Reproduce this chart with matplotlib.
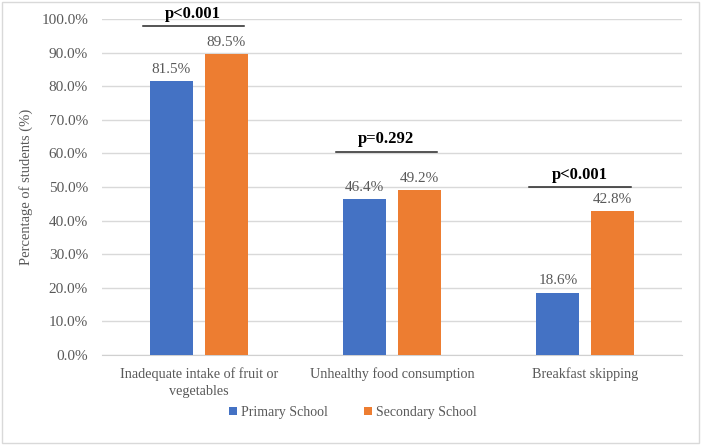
import numpy as np
import matplotlib.pyplot as plt
from matplotlib.patches import Rectangle

categories = ['Inadequate intake of fruit or\nvegetables', 'Unhealthy food consumption', 'Breakfast skipping']
primary = [81.5, 46.4, 18.6]
secondary = [89.5, 49.2, 42.8]
p_labels = ['p<0.001', 'p=0.292', 'p<0.001']
p_line_y = [97.9, 60.5, 50.0]
yticks = np.arange(0, 101, 10)

plt.rcParams['font.family'] = ['Liberation Serif', 'DejaVu Serif']
grey = '#595959'
blue = '#4472C4'
orange = '#ED7D31'

fig = plt.figure(figsize=(7.02, 4.46), dpi=100)
ax = fig.add_axes([0.1453, 0.2040, 0.8262, 0.7534])

x = np.arange(len(categories))
w = 0.223
off = 0.142
b1 = ax.bar(x - off, primary, w, color=blue, label='Primary School', zorder=3)
b2 = ax.bar(x + off, secondary, w, color=orange, label='Secondary School', zorder=3)

for bars, vals in ((b1, primary), (b2, secondary)):
    for r, v in zip(bars, vals):
        ax.text(r.get_x() + r.get_width() / 2, v + 1.5, '%.1f%%' % v,
                ha='center', va='bottom', fontsize=11, color=grey, zorder=4)

for i in range(len(categories)):
    y = p_line_y[i]
    ax.plot([i - 0.29, i + 0.235], [y, y], color='#262626', lw=1.1,
            clip_on=False, zorder=4)
    ax.text(i - 0.03, y + 1.3, p_labels[i], ha='center', va='bottom',
            fontsize=12, fontweight='bold', color='black', clip_on=False)

ax.set_xlim(-0.5, 2.5)
ax.set_ylim(0, 100)
ax.set_yticks(yticks)
ax.set_yticklabels(['%.1f%%' % t for t in yticks], fontsize=11, color=grey)
ax.set_xticks(x)
ax.set_xticklabels(categories, fontsize=10.2, color=grey, linespacing=1.35)
ax.tick_params(axis='both', length=0)
ax.tick_params(axis='x', pad=9)
ax.tick_params(axis='y', pad=10)
ax.yaxis.grid(True, color='#d9d9d9', lw=1, zorder=0)
for s in ('top', 'right', 'left'):
    ax.spines[s].set_visible(False)
ax.spines['bottom'].set_color('#d0d0d0')
ax.set_ylabel('Percentage of students (%)', fontsize=10.5, color=grey, labelpad=6)

fig.legend(handles=[b1, b2], loc='center', bbox_to_anchor=(0.503, 0.075),
           ncol=2, frameon=False, fontsize=10, labelcolor=grey,
           handlelength=0.55, handleheight=0.55, handletextpad=0.3, columnspacing=2.6)

fig.patches.append(Rectangle((2 / 702, 3 / 446), 697 / 702, 441 / 446,
                             transform=fig.transFigure, fill=False,
                             edgecolor='#d9d9d9', lw=1))

fig.savefig('out.png', dpi=100)
